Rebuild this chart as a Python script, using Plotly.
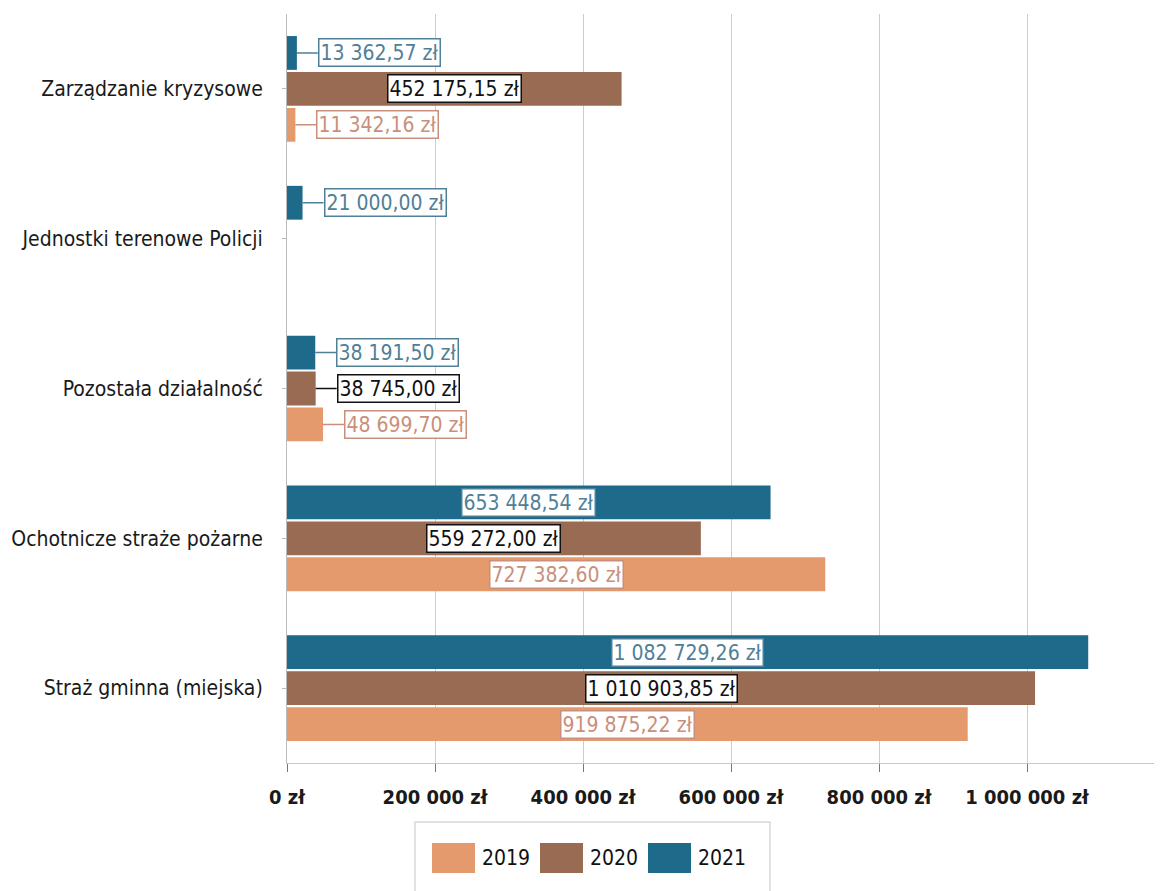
import plotly.graph_objects as go

categories = ["Straż gminna (miejska)", "Ochotnicze straże pożarne", "Pozostała działalność",
              "Jednostki terenowe Policji", "Zarządzanie kryzysowe"]
years = ["2019", "2020", "2021"]
values_2019 = [919875.22, 727382.60, 48699.70, None, 11342.16]
values_2020 = [1010903.85, 559272.00, 38745.00, None, 452175.15]
values_2021 = [1082729.26, 653448.54, 38191.50, 21000.00, 13362.57]
tick_values = [0, 200000, 400000, 600000, 800000, 1000000]
tick_labels = ["0 zł", "200 000 zł", "400 000 zł", "600 000 zł", "800 000 zł", "1 000 000 zł"]

series = [values_2019, values_2020, values_2021]
bar_colors = ["#E49A6C", "#9A6B53", "#1D6A8A"]
label_colors = ["#C98F7A", "#111111", "#4F8098"]
FONT = "DejaVu Sans Condensed, Liberation Sans Narrow, Arial"

OFF = 8  # page body margin
W, H = 1162 - OFF, 891 - OFF
ML, MR, MT = 287 - OFF, 2, 14 - OFF
MB = H - (763 - OFF)
PW, PH = W - ML - MR, H - MT - MB


def px_x(px):
    return (px - OFF - ML) / PW


def px_y(py):
    return (H - MB - (py - OFF)) / PH


def fmt(v):
    s = f"{v:,.2f}"
    s = s.replace(",", "X").replace(".", ",").replace("X", " ")
    return s + " zł"


fig = go.Figure()
for name, vals, col in zip(years, series, bar_colors):
    fig.add_trace(go.Bar(
        y=categories, x=vals, name=name, orientation="h",
        marker=dict(color=col, line=dict(width=0)), showlegend=False,
    ))

bargap = 0.28
groupgap = 0.06
slot = (1 - bargap) / 3
annotations = []
for k, (vals, lc) in enumerate(zip(series, label_colors)):
    offset = -(1 - bargap) / 2 + slot * (k + 0.5)
    for i, v in enumerate(vals):
        if v is None:
            continue
        base = dict(
            y=i + offset, yref="y", xref="x", text=fmt(v),
            font=dict(family=FONT, size=21, color=lc),
            bgcolor="white", bordercolor=lc, borderwidth=1.5, borderpad=1,
        )
        if v > 100000:
            annotations.append(dict(base, x=v / 2, showarrow=False, xanchor="center"))
        else:
            annotations.append(dict(base, x=v, showarrow=True, arrowhead=0, arrowwidth=1.5,
                                    arrowcolor=lc, ax=21, ay=0, xanchor="left"))

# custom legend (large swatches) below the plot
shapes = [dict(type="rect", xref="paper", yref="paper",
               x0=px_x(415), x1=px_x(770), y0=px_y(905), y1=px_y(822),
               line=dict(color="#D8D8D8", width=1.5), fillcolor="white", layer="below")]
swatch_left = [432, 540, 648]
for name, col, sx in zip(years, bar_colors, swatch_left):
    shapes.append(dict(type="rect", xref="paper", yref="paper",
                       x0=px_x(sx), x1=px_x(sx + 43), y0=px_y(873), y1=px_y(843),
                       line=dict(width=0), fillcolor=col))
    annotations.append(dict(xref="paper", yref="paper", x=px_x(sx + 48), y=px_y(858),
                            xanchor="left", yanchor="middle", showarrow=False, text=name,
                            font=dict(family=FONT, size=21, color="#111111")))

x_max = (1160 - 287) / 740 * 1000000

fig.update_layout(
    width=W, height=H,
    margin=dict(l=ML, r=MR, t=MT, b=MB),
    paper_bgcolor="white", plot_bgcolor="white",
    barmode="group", bargap=bargap, bargroupgap=groupgap,
    font=dict(family=FONT, size=21, color="#111111"),
    showlegend=False,
    xaxis=dict(range=[0, x_max], tickvals=tick_values, ticktext=tick_labels,
               showgrid=True, gridcolor="#CCCCCC", gridwidth=1,
               showline=True, linecolor="#C8C8C8", ticks="outside", ticklen=8,
               tickcolor="#777777", zeroline=False, automargin=False,
               ticklabelstandoff=8,
               tickfont=dict(family=FONT, size=20, color="#1A1A1A", weight="bold")),
    yaxis=dict(type="category", categoryorder="array", categoryarray=categories,
               showline=True, linecolor="#BBBBBB", ticks="outside", ticklen=4,
               tickcolor="#BBBBBB", ticklabelstandoff=15, automargin=False,
               tickfont=dict(family=FONT, size=21, color="#1A1A1A")),
    annotations=annotations,
    shapes=shapes,
)

fig.write_html("out.html")
